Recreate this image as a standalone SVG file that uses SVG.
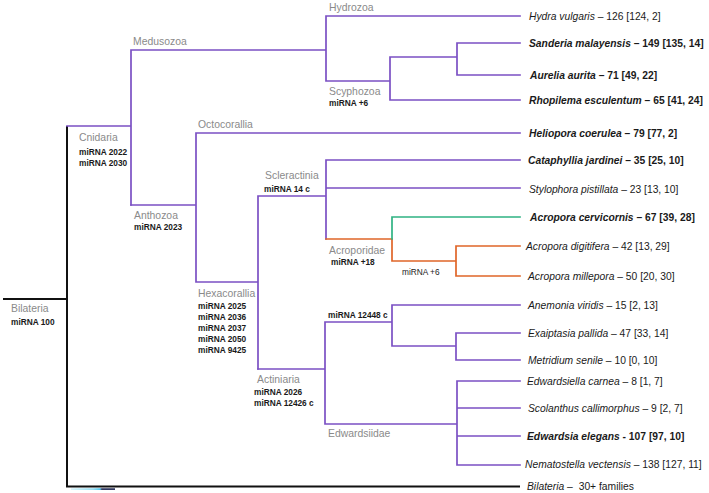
<svg xmlns="http://www.w3.org/2000/svg" width="709" height="493" viewBox="0 0 709 493">
<defs>
<style>
.p{stroke:#7b50c4;stroke-width:1.7;fill:none;stroke-linecap:square}
.o{stroke:#e06528;stroke-width:1.7;fill:none;stroke-linecap:square}
.g{stroke:#2fb383;stroke-width:1.7;fill:none;stroke-linecap:square}
.k{stroke:#111;stroke-width:2;fill:none}
text{font-family:"Liberation Sans",Arial,sans-serif}
.clade{font-size:10.4px;fill:#8a8a8a}
.mi{font-size:8.3px;font-weight:bold;fill:#1a1a1a}
.mil{font-size:8.3px;fill:#1a1a1a}
.leaf{font-size:10.3px;fill:#1a1a1a}
.b{font-weight:bold}
.i{font-style:italic}
</style>
<linearGradient id="sb" x1="0" x2="1" y1="0" y2="0">
<stop offset="0" stop-color="#d6f4fb"/>
<stop offset="0.5" stop-color="#8fdcf2"/>
<stop offset="0.66" stop-color="#3cc0ea"/>
<stop offset="0.7" stop-color="#1b2250"/>
<stop offset="1" stop-color="#1b2250"/>
</linearGradient>
</defs>
<rect width="709" height="493" fill="#fff"/>
<g id="connectors">
<path class="k" d="M3,299 H67 M67,126 V486.5 H520"/>
<path class="p" d="M67,126 H131 M131,50 V205 M131,50 H326 M326,16 V81 M326,16 H520 M326,81 H390 M390,57 V100 M390,57 H457 M457,43 V75 M457,43 H520 M457,75 H520 M390,100 H520"/>
<path class="p" d="M131,205 H196 M196,133 V282 M196,133 H520 M196,282 H258 M258,196 V369 M258,196 H326 M326,160 V239 M326,160 H520 M326,188 H520"/>
<path class="o" d="M326,239 H392 V261 H456 M456,246 V276 M456,246 H520 M456,276 H520"/>
<path class="g" d="M392,239 V217 H520"/>
<path class="p" d="M258,369 H325 M325,322 V424 M325,322 H392 M392,305 V346 M392,305 H520 M392,346 H456 M456,333 V360 M456,333 H520 M456,360 H520 M325,424 H457 M457,381 V465 M457,381 H520 M457,408 H520 M457,436 H520 M457,465 H520"/>
<rect x="71" y="488.3" width="44" height="1.6" fill="url(#sb)"/>
</g>
<g id="node-bilateria-root"><text class="clade" x="11" y="312">Bilateria</text><text class="mi" x="11" y="325">miRNA 100</text></g>
<g id="node-cnidaria"><text class="clade" x="79" y="141">Cnidaria</text><text class="mi" x="79" y="155">miRNA 2022</text><text class="mi" x="79" y="166">miRNA 2030</text></g>
<g id="node-medusozoa"><text class="clade" x="133" y="45">Medusozoa</text></g>
<g id="node-hydrozoa"><text class="clade" x="329" y="11">Hydrozoa</text></g>
<g id="node-scyphozoa"><text class="clade" x="329" y="95">Scyphozoa</text><text class="mi" x="329" y="106">miRNA +6</text></g>
<g id="node-anthozoa"><text class="clade" x="134" y="219">Anthozoa</text><text class="mi" x="134" y="230">miRNA 2023</text></g>
<g id="node-octocorallia"><text class="clade" x="198" y="128">Octocorallia</text></g>
<g id="node-hexacorallia"><text class="clade" x="198" y="297">Hexacorallia</text><text class="mi" x="198" y="309">miRNA 2025</text><text class="mi" x="198" y="320">miRNA 2036</text><text class="mi" x="198" y="331">miRNA 2037</text><text class="mi" x="198" y="342">miRNA 2050</text><text class="mi" x="198" y="353">miRNA 9425</text></g>
<g id="node-scleractinia"><text class="clade" x="265" y="179">Scleractinia</text><text class="mi" x="264" y="192">miRNA 14 c</text></g>
<g id="node-acroporidae"><text class="clade" x="329" y="254">Acroporidae</text><text class="mi" x="331" y="265">miRNA +18</text><text class="mil" x="402" y="275">miRNA +6</text></g>
<g id="node-actiniaria"><text class="clade" x="257" y="383">Actiniaria</text><text class="mi" x="254" y="395">miRNA 2026</text><text class="mi" x="254" y="406">miRNA 12426 c</text></g>
<g id="node-12448"><text class="mi" x="328" y="318">miRNA 12448 c</text></g>
<g id="node-edwardsiidae"><text class="clade" x="328" y="437">Edwardsiidae</text></g>
<g id="leaf-hydra"><text class="leaf" x="529" y="19.7"><tspan class="i">Hydra vulgaris</tspan> – 126 [124, 2]</text></g>
<g id="leaf-sanderia"><text class="leaf b" x="529" y="46.7"><tspan class="i">Sanderia malayensis</tspan> – 149 [135, 14]</text></g>
<g id="leaf-aurelia"><text class="leaf b" x="530" y="78.7"><tspan class="i">Aurelia aurita</tspan> – 71 [49, 22]</text></g>
<g id="leaf-rhopilema"><text class="leaf b" x="529" y="103.7"><tspan class="i">Rhopilema esculentum</tspan> – 65 [41, 24]</text></g>
<g id="leaf-heliopora"><text class="leaf b" x="529" y="136.7"><tspan class="i">Heliopora coerulea</tspan> – 79 [77, 2]</text></g>
<g id="leaf-cataphyllia"><text class="leaf b" x="528" y="163.7"><tspan class="i">Cataphyllia jardinei</tspan> – 35 [25, 10]</text></g>
<g id="leaf-stylophora"><text class="leaf" x="529" y="192.7"><tspan class="i">Stylophora pistillata</tspan> – 23 [13, 10]</text></g>
<g id="leaf-cervicornis"><text class="leaf b" x="530" y="220.7"><tspan class="i">Acropora cervicornis</tspan> – 67 [39, 28]</text></g>
<g id="leaf-digitifera"><text class="leaf" x="526" y="249.7"><tspan class="i">Acropora digitifera</tspan> – 42 [13, 29]</text></g>
<g id="leaf-millepora"><text class="leaf" x="528" y="279.7"><tspan class="i">Acropora millepora</tspan> – 50 [20, 30]</text></g>
<g id="leaf-anemonia"><text class="leaf" x="528" y="308.7"><tspan class="i">Anemonia viridis</tspan> – 15 [2, 13]</text></g>
<g id="leaf-exaiptasia"><text class="leaf" x="528" y="336.7"><tspan class="i">Exaiptasia pallida</tspan> – 47 [33, 14]</text></g>
<g id="leaf-metridium"><text class="leaf" x="528" y="363.7"><tspan class="i">Metridium senile</tspan> – 10 [0, 10]</text></g>
<g id="leaf-edwardsiella"><text class="leaf" x="527" y="384.7"><tspan class="i">Edwardsiella carnea</tspan> – 8 [1, 7]</text></g>
<g id="leaf-scolanthus"><text class="leaf" x="528" y="411.7"><tspan class="i">Scolanthus callimorphus</tspan> – 9 [2, 7]</text></g>
<g id="leaf-edwardsia"><text class="leaf b" x="527" y="439.7"><tspan class="i">Edwardsia elegans</tspan> - 107 [97, 10]</text></g>
<g id="leaf-nematostella"><text class="leaf" x="525" y="468.2"><tspan class="i">Nematostella vectensis</tspan> – 138 [127, 11]</text></g>
<g id="leaf-bilateria"><text class="leaf" x="527" y="490.2"><tspan class="i">Bilateria</tspan> –  <tspan dx="3">30+ families</tspan></text></g>
</svg>
